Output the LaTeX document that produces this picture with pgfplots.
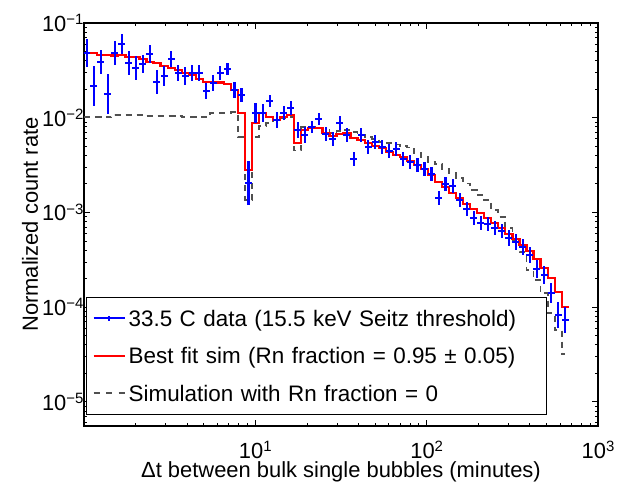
\documentclass[border=0pt]{standalone}
\usepackage{fontspec}
\setmainfont{Liberation Sans}
\usepackage{pgfplots}
\usepackage{pgfplotstable}
\pgfplotsset{compat=1.18}
\definecolor{simgray}{RGB}{80,80,80}

\pgfplotstableread{
x y ep em
1.037 0.0479 .405 .288
1.140 0.02163 .626 .385
1.253 0.03903 .339 .253
1.377 0.01780 .626 .385
1.514 0.0479 .339 .253
1.664 0.05957 .275 .216
1.829 0.03754 .339 .253
2.010 0.03323 .339 .253
2.210 0.03664 .245 .197
2.429 0.04670 .245 .197
2.670 0.02365 .339 .253
2.934 0.02757 .275 .216
3.225 0.04168 .215 .177
3.545 0.02987 .215 .177
3.896 0.02757 .245 .197
4.283 0.02987 .215 .177
4.708 0.02987 .215 .177
5.175 0.01928 .215 .177
5.689 0.02308 .215 .177
6.252 0.02987 .186 .157
6.873 0.03244 .157 .136
7.554 0.01947 .215 .177
8.303 0.01737 .186 .157
9.127 0.002059 .707 .414
10.03 0.01129 .275 .216
11.03 0.01129 .245 .197
12.12 0.01512 .157 .136
13.32 0.009456 .215 .177
14.64 0.01113 .186 .157
16.10 0.01257 .186 .157
17.69 0.007417 .215 .177
19.45 0.006570 .215 .177
21.38 0.008035 .157 .136
23.50 0.009618 .157 .136
25.83 0.006732 .186 .157
28.39 0.005913 .186 .157
31.21 0.008726 .186 .157
34.30 0.006570 .186 .157
37.70 0.003637 .186 .157
41.44 0.006570 .186 .157
45.56 0.004869 .186 .157
50.07 0.005578 .186 .157
55.04 0.004869 .186 .157
60.50 0.004451 .186 .157
66.50 0.004638 .186 .157
73.10 0.003664 .186 .157
80.35 0.003430 .186 .157
88.31 0.003166 .186 .157
97.05 0.002851 .186 .157
106.7 0.002544 .186 .157
117.5 0.001409 .186 .157
128.9 0.001995 .186 .157
141.7 0.001900 .186 .157
155.7 0.001351 .186 .157
171.2 0.001078 .186 .157
188.2 0.0008790 .186 .157
206.9 0.0007784 .186 .157
227.4 0.0007542 .186 .157
249.9 0.0006796 .186 .157
274.7 0.0006362 .186 .157
302.0 0.0005327 .215 .177
331.9 0.0004904 .215 .177
364.8 0.0004279 .215 .177
401.0 0.0003550 .215 .177
440.7 0.0002506 .245 .197
484.5 0.0002183 .245 .197
532.5 0.0001398 .275 .216
585.3 0.00008255 .372 .271
643.4 0.00007307 .372 .271
}\datatab

\pgfplotstableread{
x y
1.0 0.04858
1.037 0.04858
1.140 0.04858
1.253 0.04594
1.377 0.04594
1.514 0.04538
1.664 0.04594
1.829 0.04375
2.010 0.04343
2.210 0.04137
2.429 0.03903
2.670 0.03754
2.934 0.03514
3.225 0.03323
3.545 0.03189
3.896 0.02987
4.283 0.02825
4.708 0.02563
5.175 0.02399
5.689 0.02399
6.252 0.02353
6.873 0.02269
7.554 0.01962
8.303 0.01121
9.127 0.002803
10.03 0.008726
11.03 0.01113
12.12 0.01025
13.32 0.009456
14.64 0.01010
16.10 0.01068
17.69 0.005366
19.45 0.007417
21.38 0.007725
23.50 0.007725
25.83 0.006946
28.39 0.006410
31.21 0.006732
34.30 0.006846
37.70 0.006150
41.44 0.005814
45.56 0.005366
50.07 0.005024
55.04 0.004752
60.50 0.004375
66.50 0.004037
73.10 0.003818
80.35 0.003514
88.31 0.003166
97.05 0.002851
106.7 0.002482
117.5 0.002094
128.9 0.001854
141.7 0.001602
155.7 0.001419
171.2 0.001227
188.2 0.001086
206.9 0.0009856
227.4 0.0008726
249.9 0.0007725
274.7 0.0006846
302.0 0.0005914
331.9 0.0005238
364.8 0.0004524
401.0 0.0003912
440.7 0.0003220
484.5 0.0002587
532.5 0.0002029
585.3 0.0001443
643.4 0.0001003
673 0.0001003
}\redtab

\pgfplotstableread{
x y
1.0 0.01010
1.037 0.01010
1.140 0.01010
1.253 0.01010
1.377 0.01010
1.514 0.01068
1.664 0.01068
1.829 0.01068
2.010 0.01068
2.210 0.01068
2.429 0.01042
2.670 0.01042
2.934 0.01042
3.225 0.01042
3.545 0.01042
3.896 0.01025
4.283 0.01025
4.708 0.01025
5.175 0.01025
5.689 0.01129
6.252 0.01129
6.873 0.01129
7.554 0.01140
8.303 0.006254
9.127 0.001351
10.03 0.006254
11.03 0.008177
12.12 0.008726
13.32 0.009456
14.64 0.009856
16.10 0.01010
17.69 0.004505
19.45 0.008035
21.38 0.007978
23.50 0.007725
25.83 0.007417
28.39 0.006846
31.21 0.007240
34.30 0.007417
37.70 0.007063
41.44 0.006570
45.56 0.006254
50.07 0.005913
55.04 0.005578
60.50 0.005404
66.50 0.005212
73.10 0.005024
80.35 0.004845
88.31 0.004238
97.05 0.003846
106.7 0.003430
117.5 0.003220
128.9 0.002851
141.7 0.002588
155.7 0.002308
171.2 0.002019
188.2 0.001723
206.9 0.001526
227.4 0.001351
249.9 0.001060
274.7 0.0009008
302.0 0.0006846
331.9 0.0005111
364.8 0.0003818
401.0 0.0002464
440.7 0.0001933
484.5 0.0001409
532.5 0.00008665
585.3 0.00005730
643.4 0.00003196
}\graytab

\newcommand{\tickfont}{\fontsize{22}{25}\selectfont}
\newcommand{\supfont}{\fontsize{15}{17}\selectfont}
\newcommand{\tl}[1]{10\raisebox{6.5bp}{\supfont #1}}

\begin{document}
\begin{tikzpicture}
\path[use as bounding box] (-84bp,-57bp) rectangle (540bp,426bp);
\begin{axis}[
  scale only axis, width=514bp, height=403bp,
  xmode=log, ymode=log,
  xmin=1, xmax=1000, ymin=5.55e-6, ymax=0.1,
  xtick={10,100,1000},
  xticklabels={\tl{1},\tl{2},\tl{3}},
  ytick={1e-5,1e-4,1e-3,1e-2,1e-1},
  yticklabels={\tl{−5},\tl{−4},\tl{−3},\tl{−2},\tl{−1}},
  minor xtick={2,3,4,5,6,7,8,9,20,30,40,50,60,70,80,90,200,300,400,500,600,700,800,900},
  minor ytick={6e-6,7e-6,8e-6,9e-6,2e-5,3e-5,4e-5,5e-5,6e-5,7e-5,8e-5,9e-5,2e-4,3e-4,4e-4,5e-4,6e-4,7e-4,8e-4,9e-4,2e-3,3e-3,4e-3,5e-3,6e-3,7e-3,8e-3,9e-3,2e-2,3e-2,4e-2,5e-2,6e-2,7e-2,8e-2,9e-2},
  tick align=inside,
  major tick length=6bp, minor tick length=3.5bp,
  every tick/.style={black, line width=0.8bp},
  axis line style={line width=1.3bp},
  tick label style={font=\tickfont},
  xticklabel style={font=\tickfont, anchor=base, yshift=-32bp},
  yticklabel style={font=\tickfont, xshift=3bp},
  xlabel={Δt between bulk single bubbles (minutes)},
  ylabel={Normalized count rate},
  label style={font=\fontsize{22}{26}\selectfont},
  xlabel style={at={(axis description cs:0.5,-0.129)}, anchor=base},
  ylabel style={at={(axis description cs:-0.0895,0.5)}, anchor=base},
  reverse legend,
  legend cell align=left,
  legend style={
    at={(axis description cs:0.0039,0.0273)}, anchor=south west,
    draw=black, line width=1.3bp, fill=white,
    inner xsep=6bp, inner ysep=2.25bp,
    font=\fontsize{22.5}{26}\selectfont,
    row sep=0bp, column sep=1bp,
    nodes={text height=16bp, text depth=0bp, inner ysep=10.75bp, inner xsep=2bp},
    /tikz/column 2/.style={nodes={text width=410bp}},
  },
]
\addplot[simgray, line width=1.8bp, dash pattern=on 6bp off 5bp, const plot mark mid,
  legend image code/.code={\draw[simgray, line width=1.8bp, dash pattern=on 6bp off 6.5bp] (0bp,0bp) -- (31bp,0bp);}]
  table[x=x, y=y] {\graytab};
\addlegendentry{Simulation with Rn fraction = 0}
\addplot[red, line width=2.2bp, const plot mark mid,
  legend image code/.code={\draw[red, line width=2bp] (0bp,0bp) -- (31bp,0bp);}]
  table[x=x, y=y] {\redtab};
\addlegendentry{Best fit sim (Rn fraction = 0.95 ± 0.05)}
\addplot[blue, line width=2.2bp, only marks, mark=*, mark size=0pt,
  mark options={draw opacity=0, fill opacity=0},
  legend image code/.code={\draw[blue, line width=2bp] (0bp,0bp) -- (31bp,0bp); \draw[blue, line width=1.5bp] (15.5bp,-2.5bp) -- (15.5bp,2.5bp);},
  error bars/.cd, x dir=both, x fixed relative=0.047, y dir=both, y explicit relative,
  error mark=none, error bar style={line width=2.2bp, blue}]
  table[x=x, y=y, y error plus=ep, y error minus=em] {\datatab};
\addlegendentry{33.5 C data (15.5 keV Seitz threshold)}
\end{axis}
\end{tikzpicture}
\end{document}
